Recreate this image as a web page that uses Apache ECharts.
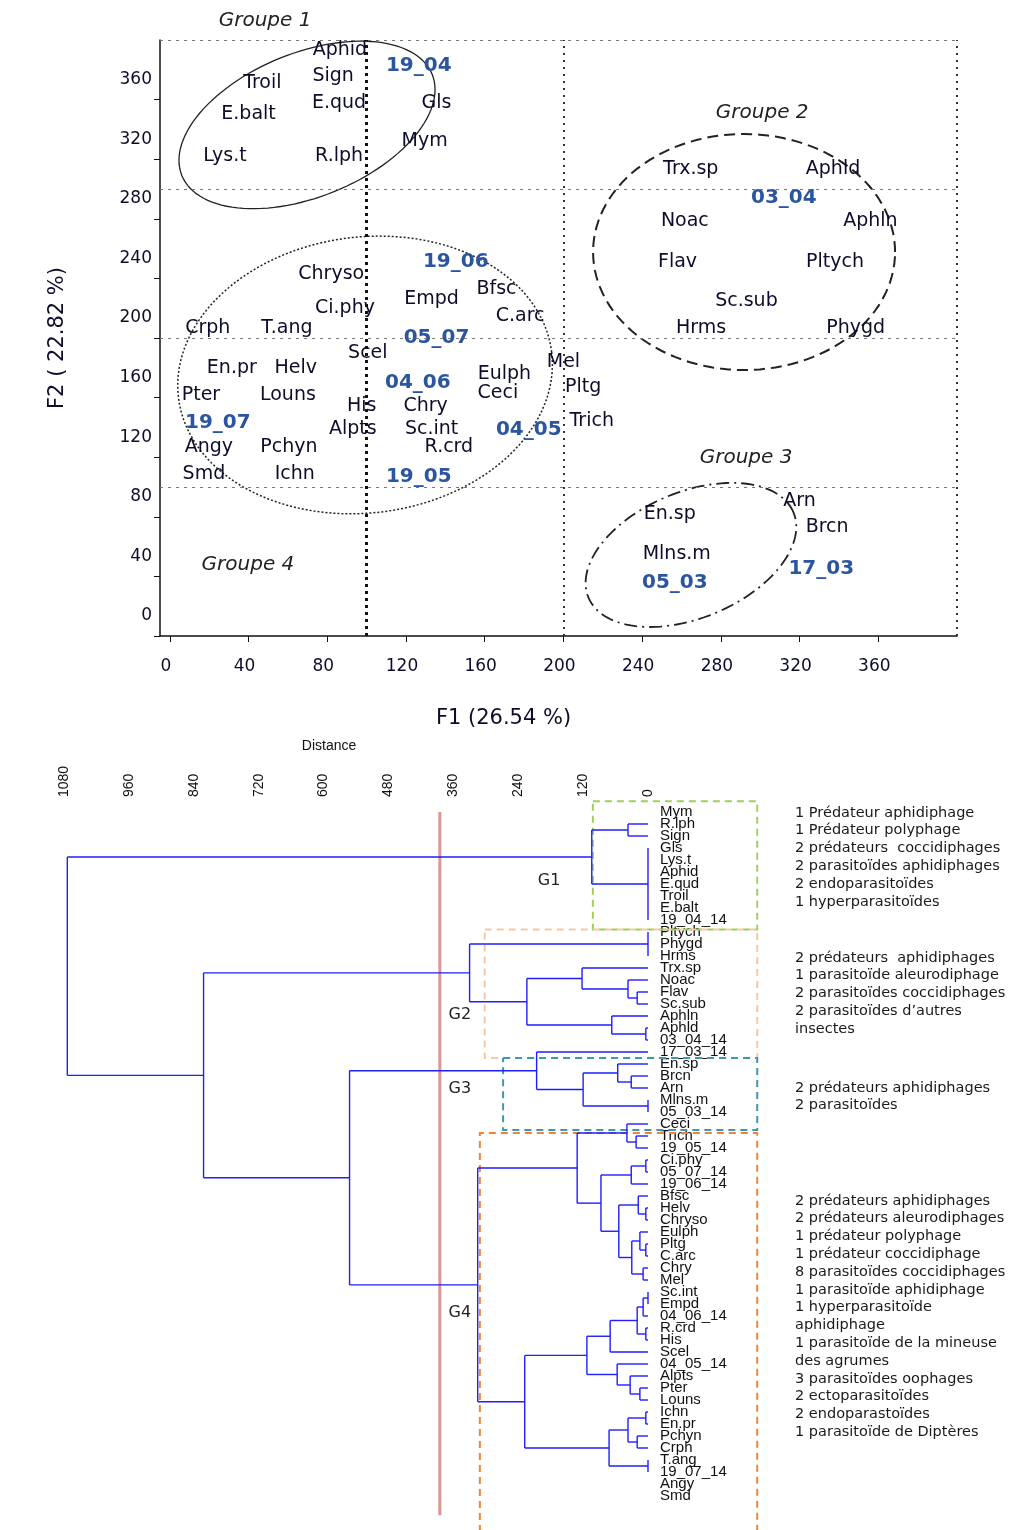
<!DOCTYPE html>
<html>
<head>
<meta charset="utf-8">
<script src="https://cdn.jsdelivr.net/npm/echarts@6/dist/echarts.min.js"></script>
<style>
    html, body { margin: 0; padding: 0; background: #fff; }
    #main { width: 1020px; height: 1530px; }
</style>
</head>
<body>
<div id="main"></div>
<script>
    // ---------- plan factoriel F1 x F2 ----------
    var speciesNames = ['Aphid', 'Sign', 'E.qud', 'Troil', 'E.balt', 'Lys.t', 'R.lph', 'Gls', 'Mym',
        'Trx.sp', 'Aphld', 'Noac', 'Aphln', 'Flav', 'Pltych', 'Sc.sub', 'Hrms', 'Phygd',
        'En.sp', 'Mlns.m', 'Arn', 'Brcn',
        'Chryso', 'Bfsc', 'Empd', 'Ci.phy', 'C.arc', 'Crph', 'T.ang', 'Scel', 'Mel', 'En.pr', 'Helv',
        'Eulph', 'Pltg', 'Pter', 'Louns', 'Ceci', 'His', 'Chry', 'Trich', 'Alpts', 'Sc.int',
        'Angy', 'Pchyn', 'R.crd', 'Smd', 'Ichn'];
    var speciesF1 = [86.4, 83, 86, 47, 40, 28, 86, 135.5, 129.5,
        264.7, 337, 261.7, 356, 258, 338, 293, 270, 348.5,
        254, 257.6, 320, 334,
        82, 166, 133, 89, 178, 19.3, 59.5, 100.6, 200, 31.5, 64,
        170, 210, 15.8, 60, 166.7, 97.5, 130, 214.4, 93, 133,
        19.8, 60.5, 141.8, 17.3, 63.5];
    var speciesF2 = [393, 376, 358, 371, 350, 322, 322, 358, 332,
        313.6, 313.6, 278.7, 278.7, 251, 251, 225, 207, 207,
        81.7, 55, 90.5, 73,
        243, 233, 226, 220, 215, 207, 207, 189.6, 183.6, 180, 180,
        175.5, 167, 162, 162, 163, 154, 154, 144, 139, 139,
        126.6, 126.6, 126.6, 108.5, 108.5];

    var dateNames = ['19_04', '03_04', '05_03', '17_03', '19_06', '05_07', '04_06', '19_07', '04_05', '19_05'];
    var dateF1 = [126.5, 312, 256.6, 331, 145.3, 135.5, 126, 24.4, 182.4, 126.5];
    var dateF2 = [383, 294, 36, 45, 251, 200, 170, 143, 138.7, 107];

    var groupNames = ['Groupe 1', 'Groupe 2', 'Groupe 3', 'Groupe 4'];
    var groupF1 = [48.4, 301, 292.8, 39.7];
    var groupF2 = [413, 351, 119.5, 47.7];

    // enveloppes des groupes : centre (F1, F2), demi-axes (px), rotation (deg)
    var ellipseF1 = [69.7, 291.8, 264.8, 99.2];
    var ellipseF2 = [343, 257.7, 54.4, 175.2];
    var ellipseA = [135, 151, 111, 188];
    var ellipseB = [72, 118, 63, 138];
    var ellipseRot = [22, 0, 22.5, 7];

    var f1Ticks = [0, 40, 80, 120, 160, 200, 240, 280, 320, 360];
    var f2Ticks = [0, 40, 80, 120, 160, 200, 240, 280, 320, 360];
    var f1RefLines = [100, 200, 400];
    var f2RefLines = [100, 200, 300, 400];

    // ---------- dendrogramme ----------
    var leaves = ['Mym', 'R.lph', 'Sign', 'Gls', 'Lys.t', 'Aphid', 'E.qud', 'Troil', 'E.balt', '19_04_14',
        'Pltych', 'Phygd', 'Hrms', 'Trx.sp', 'Noac', 'Flav', 'Sc.sub', 'Aphln', 'Aphld', '03_04_14',
        '17_03_14', 'En.sp', 'Brcn', 'Arn', 'Mlns.m', '05_03_14',
        'Ceci', 'Trich', '19_05_14', 'Ci.phy', '05_07_14', '19_06_14', 'Bfsc', 'Helv', 'Chryso', 'Eulph',
        'Pltg', 'C.arc', 'Chry', 'Mel', 'Sc.int', 'Empd', '04_06_14', 'R.crd', 'His', 'Scel', '04_05_14',
        'Alpts', 'Pter', 'Louns', 'Ichn', 'En.pr', 'Pchyn', 'Crph', 'T.ang', '19_07_14', 'Angy', 'Smd'];

    // [noeud, enfants, distance]
    var merges = [
        ['g1a', ['R.lph', 'Sign'], 37],
        ['g1z', ['Gls', 'Lys.t', 'Aphid', 'E.qud', 'Troil', 'E.balt', '19_04_14'], 0],
        ['G1', ['g1a', 'g1z'], 104],
        ['g2z', ['Pltych', 'Phygd', 'Hrms'], 0],
        ['fs', ['Flav', 'Sc.sub'], 20],
        ['nfs', ['Noac', 'fs'], 37],
        ['tnfs', ['Trx.sp', 'nfs'], 122],
        ['a03', ['Aphld', '03_04_14'], 4],
        ['aph', ['Aphln', 'a03'], 67],
        ['g2b', ['tnfs', 'aph'], 224],
        ['G2', ['g2z', 'g2b'], 330],
        ['ba', ['Brcn', 'Arn'], 31],
        ['eba', ['En.sp', 'ba'], 56],
        ['m05', ['Mlns.m', '05_03_14'], 0],
        ['g3a', ['eba', 'm05'], 120],
        ['G3', ['17_03_14', 'g3a'], 206],
        ['t19', ['Trich', '19_05_14'], 22],
        ['ct', ['Ceci', 't19'], 39],
        ['c05', ['Ci.phy', '05_07_14'], 4],
        ['c19', ['c05', '19_06_14'], 31],
        ['hc', ['Helv', 'Chryso'], 4],
        ['bhc', ['Bfsc', 'hc'], 18],
        ['pc', ['Pltg', 'C.arc'], 4],
        ['epc', ['Eulph', 'pc'], 15],
        ['cm', ['Chry', 'Mel'], 9],
        ['epcm', ['epc', 'cm'], 30],
        ['bl', ['bhc', 'epcm'], 54],
        ['c19bl', ['c19', 'bl'], 87],
        ['g4a', ['ct', 'c19bl'], 131],
        ['se0', ['Sc.int', 'Empd'], 0],
        ['se4', ['se0', '04_06_14'], 9],
        ['rh', ['R.crd', 'His'], 4],
        ['serh', ['se4', 'rh'], 20],
        ['sc', ['serh', 'Scel'], 70],
        ['pl', ['Pter', 'Louns'], 15],
        ['apl', ['Alpts', 'pl'], 33],
        ['o4', ['04_05_14', 'apl'], 57],
        ['sco', ['sc', 'o4'], 113],
        ['ie', ['Ichn', 'En.pr'], 4],
        ['pcr', ['Pchyn', 'Crph'], 20],
        ['iepc', ['ie', 'pcr'], 37],
        ['t0', ['T.ang', '19_07_14'], 0],
        ['it', ['iepc', 't0'], 72],
        ['g4b', ['sco', 'it'], 228],
        ['G4', ['g4a', 'g4b'], 315],
        ['g34', ['G3', 'G4'], 552],
        ['g234', ['G2', 'g34'], 822],
        ['root', ['G1', 'g234'], 1074]
    ];

    var distTicks = [0, 120, 240, 360, 480, 600, 720, 840, 960, 1080];
    var cutDistance = 385;

    // cadres des groupes (distance gauche, feuille haut, feuille bas)
    var boxLeftDist = [102, 302, 268, 311];
    var boxTopLeaf = [-0.9, 9.8, 20.5, 26.75];
    var boxBottomLeaf = [9.8, 20.5, 26.5, 62];
    var boxRightDist = -202;
    var boxColors = ['#9fd05c', '#f8c7a4', '#3f97ad', '#ee8434'];

    var tagNames = ['G1', 'G2', 'G3', 'G4'];
    var tagDist = [183, 348, 348, 348];
    var tagLeaf = [5.75, 16.9, 23.1, 41.75];

    var descG1 = ['1 Prédateur aphidiphage', '1 Prédateur polyphage', '2 prédateurs  coccidiphages',
        '2 parasitoïdes aphidiphages', '2 endoparasitoïdes', '1 hyperparasitoïdes'];
    var descG2 = ['2 prédateurs  aphidiphages', '1 parasitoïde aleurodiphage', '2 parasitoïdes coccidiphages',
        '2 parasitoïdes d\u2019autres', 'insectes'];
    var descG3 = ['2 prédateurs aphidiphages', '2 parasitoïdes'];
    var descG4 = ['2 prédateurs aphidiphages', '2 prédateurs aleurodiphages', '1 prédateur polyphage',
        '1 prédateur coccidiphage', '8 parasitoïdes coccidiphages', '1 parasitoïde aphidiphage',
        '1 hyperparasitoïde', 'aphidiphage', '1 parasitoïde de la mineuse', 'des agrumes',
        '3 parasitoïdes oophages', '2 ectoparasitoïdes', '2 endoparastoïdes', '1 parasitoïde de Diptères'];

    var FONT = 'Liberation Sans, Arial, sans-serif';
    var WIDE = 'DejaVu Sans, Verdana, sans-serif';
    var inkColor = '#0d0d2b';

    function zip3(a, b, c) {
        var out = [];
        for (var i = 0; i < a.length; i++) out.push([a[i], b[i], c[i]]);
        return out;
    }

    var ellipseDash = [null, [11, 6], [13, 5, 2, 5], [2, 2]];
    var ellipseWidth = [1.3, 2, 1.8, 1.5];

    function renderEllipse(params, api) {
        var i = params.dataIndex;
        var c = api.coord([api.value(0), api.value(1)]);
        var a = api.value(2), b = api.value(3), r = api.value(4) * Math.PI / 180;
        var pts = [];
        for (var k = 0; k < 120; k++) {
            var t = k / 120 * 2 * Math.PI;
            var ex = a * Math.cos(t), ey = b * Math.sin(t);
            pts.push([c[0] + ex * Math.cos(r) - ey * Math.sin(r), c[1] - (ex * Math.sin(r) + ey * Math.cos(r))]);
        }
        return {
            type: 'polygon',
            shape: {points: pts},
            style: {fill: 'none', stroke: '#222', lineWidth: ellipseWidth[i], lineDash: ellipseDash[i]}
        };
    }

    function renderTree(params, api) {
        var y0 = api.coord([0, 0])[1];
        var step = api.coord([0, 1])[1] - y0;
        function yLeaf(k) { return y0 + k * step; }
        function xDist(d) { return api.coord([d, 0])[0]; }
        var pos = {};
        leaves.forEach(function (n, k) { pos[n] = {y: yLeaf(k), h: 0}; });
        var kids = [];
        var st = {stroke: '#1e1eff', lineWidth: 1.4};

        // cadres en pointillés
        for (var b = 0; b < boxLeftDist.length; b++) {
            var xl = xDist(boxLeftDist[b]), xr = xDist(boxRightDist);
            var yt = yLeaf(boxTopLeaf[b]), yb = yLeaf(boxBottomLeaf[b]);
            var pts = b === 3 ? [[xl, yb], [xl, yt], [xr, yt], [xr, yb]] : [[xl, yt], [xr, yt], [xr, yb], [xl, yb], [xl, yt]];
            kids.push({type: 'polyline', shape: {points: pts},
                style: {fill: 'none', stroke: boxColors[b], lineWidth: 2, lineDash: [7, 5]}});
        }

        // ligne de coupure
        kids.push({type: 'line', shape: {x1: xDist(cutDistance), y1: yLeaf(0), x2: xDist(cutDistance), y2: yLeaf(58.6)},
            style: {stroke: '#d99694', lineWidth: 3}});

        merges.forEach(function (m) {
            var x = xDist(m[2]), ys = [];
            m[1].forEach(function (c) {
                var p = pos[c];
                kids.push({type: 'line', shape: {x1: xDist(p.h), y1: p.y, x2: x, y2: p.y}, style: st});
                ys.push(p.y);
            });
            var lo = Math.min.apply(null, ys), hi = Math.max.apply(null, ys);
            kids.push({type: 'line', shape: {x1: x, y1: lo, x2: x, y2: hi}, style: st});
            pos[m[0]] = {y: (lo + hi) / 2, h: m[2]};
        });

        for (var g = 0; g < tagNames.length; g++) {
            kids.push({type: 'text', x: xDist(tagDist[g]), y: yLeaf(tagLeaf[g]),
                style: {text: tagNames[g], font: '16px ' + WIDE, fill: '#222', align: 'center', verticalAlign: 'middle'}});
        }
        return {type: 'group', children: kids};
    }

    function descText(lines, top) {
        return {type: 'text', left: 795, top: top,
            style: {text: lines.join('\n'), font: '14.5px ' + WIDE, lineHeight: 17.8, fill: '#1a1a1a'}};
    }

    var chart = echarts.init(document.getElementById('main'));
    var option = {
        backgroundColor: '#fff',
        animation: false,
        grid: [
            {left: 160, right: 63, top: 40, bottom: 894},
            {left: 10, right: 372, top: 806, bottom: 28}
        ],
        xAxis: [
            {
                gridIndex: 0, type: 'value', min: -5, max: 400,
                axisLine: {onZero: false, lineStyle: {color: '#111', width: 1.5}},
                axisTick: {customValues: f1Ticks, length: 6, lineStyle: {color: '#111'}},
                axisLabel: {customValues: f1Ticks, fontSize: 17, color: inkColor, margin: 22, fontFamily: WIDE, padding: [0, 8, 0, 0]},
                splitLine: {show: false},
                name: 'F1 (26.54 %)', nameLocation: 'middle', nameGap: 72,
                nameTextStyle: {fontSize: 21, color: inkColor, fontFamily: WIDE, padding: [0, 110, 0, 0]}
            },
            {
                gridIndex: 1, type: 'value', inverse: true, min: 0, max: 1180, position: 'top',
                axisLine: {lineStyle: {color: '#000', width: 1.5}},
                axisTick: {customValues: distTicks, length: 5, lineStyle: {color: '#000'}},
                axisLabel: {customValues: distTicks, rotate: -90, fontSize: 14, color: '#111', margin: 9, fontFamily: FONT,
                    formatter: function (v) { return String(v); }},
                splitLine: {show: false},
                name: 'Distance', nameLocation: 'middle', nameGap: 53,
                nameTextStyle: {fontSize: 14, color: '#111', fontFamily: FONT}
            }
        ],
        yAxis: [
            {
                gridIndex: 0, type: 'value', min: 0, max: 400,
                axisLine: {onZero: false, lineStyle: {color: '#111', width: 1.5}},
                axisTick: {customValues: f2Ticks, length: 6, lineStyle: {color: '#111'}},
                axisLabel: {customValues: f2Ticks, fontSize: 17, color: inkColor, margin: 8, fontFamily: WIDE,
                    verticalAlign: 'bottom', lineHeight: 40},
                splitLine: {show: false},
                name: 'F2 ( 22.82 %)', nameLocation: 'middle', nameRotate: 90, nameGap: 92,
                nameTextStyle: {fontSize: 21, color: inkColor, fontFamily: WIDE}
            },
            {
                gridIndex: 1, type: 'category', data: leaves, inverse: true, position: 'right',
                axisLine: {show: false}, axisTick: {show: false},
                axisLabel: {interval: 0, fontSize: 15, color: '#111', margin: 12, fontFamily: FONT}
            }
        ],
        graphic: [
            descText(descG1, 804),
            descText(descG2, 949),
            descText(descG3, 1079),
            descText(descG4, 1192)
        ],
        series: [
            {
                type: 'custom', xAxisIndex: 0, yAxisIndex: 0, silent: true,
                renderItem: renderEllipse,
                data: ellipseF1.map(function (v, i) {
                    return [v, ellipseF2[i], ellipseA[i], ellipseB[i], ellipseRot[i]];
                }),
                markLine: {
                    silent: true, symbol: ['none', 'none'], label: {show: false},
                    data: f1RefLines.map(function (v, i) {
                        return {xAxis: v, lineStyle: i === 0
                            ? {color: '#111', width: 3, type: [3, 4]}
                            : {color: '#333', width: 2, type: [2, 5]}};
                    }).concat(f2RefLines.map(function (v) {
                        return {yAxis: v, lineStyle: {color: '#777', width: 1.2, type: [3, 5]}};
                    }))
                }
            },
            {
                type: 'scatter', xAxisIndex: 0, yAxisIndex: 0, silent: true,
                symbolSize: 1, itemStyle: {color: 'rgba(0,0,0,0)'},
                data: zip3(speciesF1, speciesF2, speciesNames),
                label: {show: true, position: 'inside', fontSize: 19, color: inkColor, opacity: 1, fontFamily: WIDE,
                    formatter: function (p) { return p.data[2]; }}
            },
            {
                type: 'scatter', xAxisIndex: 0, yAxisIndex: 0, silent: true,
                symbolSize: 1, itemStyle: {color: 'rgba(0,0,0,0)'},
                data: zip3(dateF1, dateF2, dateNames),
                label: {show: true, position: 'inside', fontSize: 20, fontWeight: 'bold', color: '#2c55a0', opacity: 1, fontFamily: WIDE,
                    formatter: function (p) { return p.data[2]; }}
            },
            {
                type: 'scatter', xAxisIndex: 0, yAxisIndex: 0, silent: true, clip: false,
                symbolSize: 1, itemStyle: {color: 'rgba(0,0,0,0)'},
                data: zip3(groupF1, groupF2, groupNames),
                label: {show: true, position: 'inside', fontSize: 20, fontStyle: 'italic', color: '#222', opacity: 1, fontFamily: WIDE,
                    formatter: function (p) { return p.data[2]; }}
            },
            {
                type: 'custom', xAxisIndex: 1, yAxisIndex: 1, silent: true,
                renderItem: renderTree,
                data: [[0, 0]]
            }
        ]
    };
    chart.setOption(option);
    window.addEventListener('resize', chart.resize);
</script>
</body>
</html>
